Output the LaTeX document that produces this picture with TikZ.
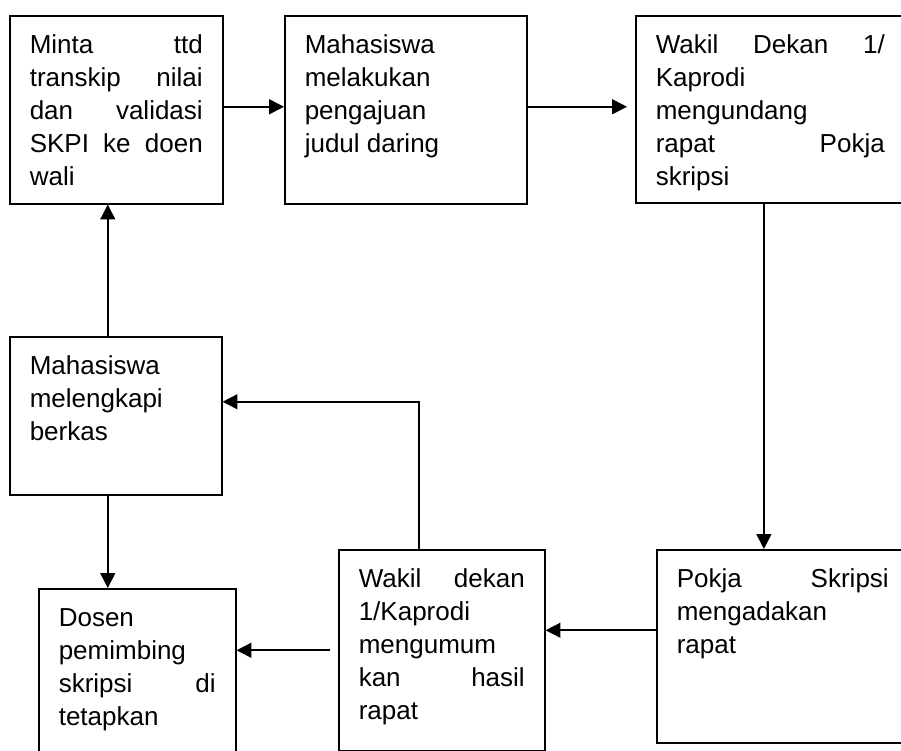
\documentclass[tikz,border=0pt]{standalone}
\usepackage{fontspec}
\setmainfont{Liberation Sans}
\usetikzlibrary{arrows.meta}
\hbadness=10000

\begin{document}
\begin{tikzpicture}[
    stage/.style={rectangle, draw, line width=1.1pt, anchor=north west, align=justify,
        inner xsep=0.5cm, inner ysep=0.45cm, text height=0.5cm,
        font=\fontsize{18.5}{23.5}\selectfont},
    flow/.style={line width=1.1pt, -{Triangle[length=0.37cm, width=0.37cm]}}
]
\useasboundingbox (0,0) rectangle (22.525,18.775);

\node[stage, text width=4.325cm, text depth=3.3cm] (minta) at (0.225, 18.4)
    {Minta ttd\linebreak transkip nilai\linebreak dan validasi\linebreak SKPI ke doen\linebreak wali};
\node[stage, text width=5.05cm, text depth=3.3cm] (judul) at (7.1, 18.4)
    {Mahasiswa\linebreak melakukan\linebreak pengajuan\linebreak judul daring};
\node[stage, text width=5.725cm, text depth=3.275cm] (undang) at (15.875, 18.4)
    {Wakil Dekan 1/\linebreak Kaprodi\linebreak mengundang\linebreak rapat Pokja\linebreak skripsi};
\node[stage, text width=4.3cm, text depth=2.55cm] (lengkap) at (0.225, 10.375)
    {Mahasiswa\linebreak melengkapi\linebreak berkas};
\node[stage, text width=3.925cm, text depth=3.3cm] (dosen) at (0.95, 4.075)
    {Dosen\linebreak pemimbing\linebreak skripsi di\linebreak tetapkan};
\node[stage, text width=4.15cm, text depth=3.625cm] (umum) at (8.45, 5.05)
    {Wakil dekan\linebreak 1/Kaprodi\linebreak mengumum\linebreak kan hasil\linebreak rapat};
\node[stage, text width=5.3cm, text depth=3.425cm] (rapat) at (16.4, 5.05)
    {Pokja Skripsi\linebreak mengadakan\linebreak rapat};

% alur
\draw[flow] ([yshift=0.075cm]minta.east) -- ([yshift=0.075cm]minta.east -| judul.west);
\draw[flow, shorten >=0.2cm] ([yshift=0.075cm]judul.east) -- ([yshift=0.075cm]judul.east -| undang.west);
\draw[flow] ([xshift=-0.16cm]undang.south) -- ([xshift=-0.16cm]undang.south |- rapat.north);
\draw[flow] ([yshift=0.4cm]rapat.west) -- ([yshift=0.4cm]rapat.west -| umum.east);
\draw[flow, shorten <=0.2cm] (umum.west) -- (umum.west -| dosen.east);
\draw[flow] ([xshift=-0.575cm]umum.north) |- ([yshift=0.35cm]lengkap.east);
\draw[flow] ([xshift=-0.2cm]lengkap.north) -- ([xshift=-0.2cm]lengkap.north |- minta.south);
\draw[flow] ([xshift=-0.2cm]lengkap.south) -- ([xshift=-0.2cm]lengkap.south |- dosen.north);
\end{tikzpicture}
\end{document}
